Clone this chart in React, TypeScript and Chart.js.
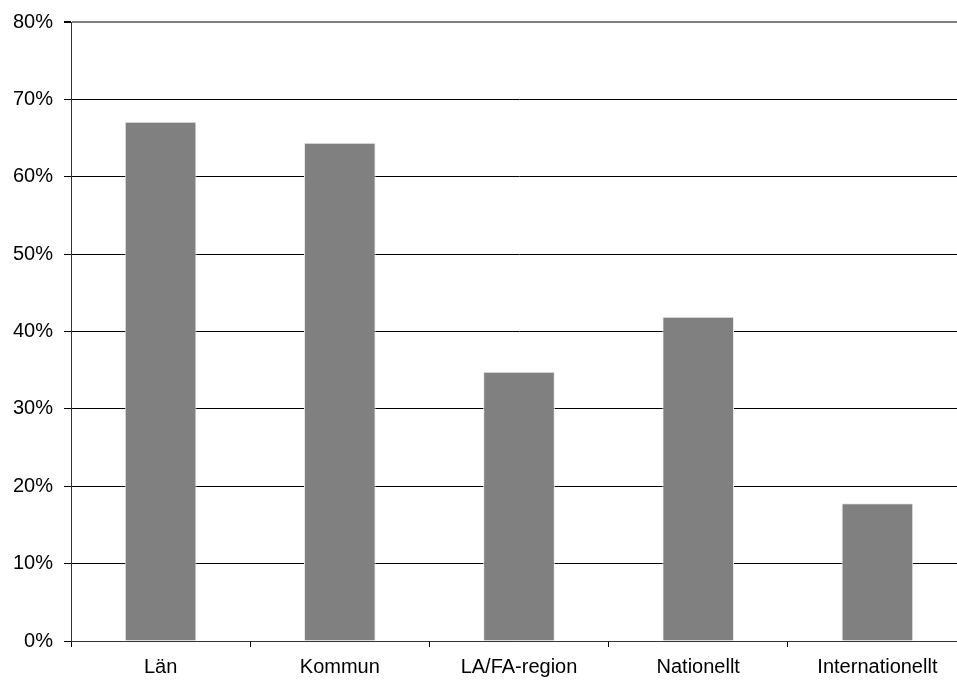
import React, { useEffect, useRef } from "react";
import { Chart, registerables } from "chart.js";

Chart.register(...registerables);

const categories = ["Län", "Kommun", "LA/FA-region", "Nationellt", "Internationellt"];
const values = [0.671, 0.644, 0.348, 0.419, 0.178];
const yTicks = [0, 0.1, 0.2, 0.3, 0.4, 0.5, 0.6, 0.7, 0.8];

export default function App() {
  const ref = useRef<HTMLCanvasElement | null>(null);
  useEffect(() => {
    if (!ref.current) return;
    const font = { family: "'Liberation Sans', Arial, sans-serif", size: 20, lineHeight: 1.1 };
    const chart = new Chart(ref.current, {
      type: "bar",
      data: {
        labels: categories,
        datasets: [
          {
            data: values,
            backgroundColor: "#808080",
            borderColor: "rgba(235,235,235,1)",
            borderWidth: 1,
            categoryPercentage: 1,
            barPercentage: 0.4,
          },
        ],
      },
      options: {
        animation: false,
        responsive: false,
        maintainAspectRatio: false,
        layout: { padding: 0 },
        plugins: { legend: { display: false }, tooltip: { enabled: false } },
        scales: {
          x: {
            grid: {
              offset: true,
              drawOnChartArea: false,
              drawTicks: true,
              tickLength: 6,
              color: "#000",
            },
            border: { color: "#333", width: 1 },
            ticks: { color: "#000", font, padding: 9, maxRotation: 0 },
            afterFit: (s: any) => {
              s.height = 42;
            },
          },
          y: {
            min: 0,
            max: 0.8,
            afterBuildTicks: (s: any) => {
              s.ticks = yTicks.map((v) => ({ value: v }));
            },
            grid: {
              color: (ctx: any) => (ctx.tick && Math.abs(ctx.tick.value - 0.8) < 1e-6 ? "#808080" : "#000"),
              tickColor: "#000",
              lineWidth: (ctx: any) => (ctx.tick && Math.abs(ctx.tick.value - 0.8) < 1e-6 ? 2 : 1),
              drawTicks: true,
              tickLength: 7,
            },
            border: { color: "#333", width: 1 },
            ticks: {
              color: "#000",
              font,
              padding: 11,
              callback: (v: any) => Math.round(Number(v) * 100) + "%",
            },
            afterFit: (s: any) => {
              s.width = 71;
            },
          },
        },
      },
    });
    return () => chart.destroy();
  }, []);
  return (
    <div style={{ position: "fixed", left: 0, top: 0, width: 957, height: 683, overflow: "hidden", background: "#fff" }}>
      <canvas ref={ref} width={967} height={683} style={{ display: "block" }} />
    </div>
  );
}
